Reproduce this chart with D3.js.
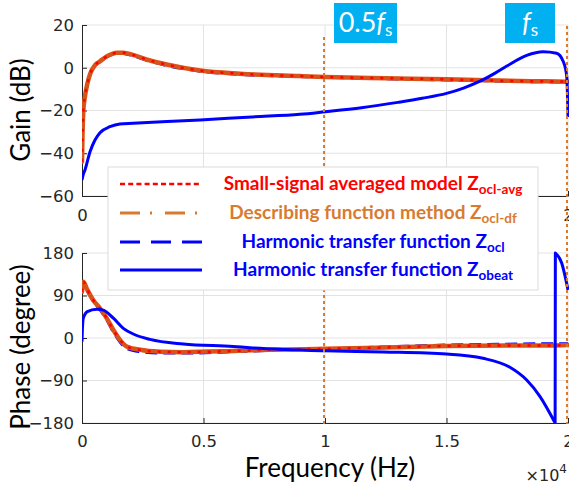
<!DOCTYPE html>
<html>
<head>
<meta charset="utf-8">
<script src="https://cdn.jsdelivr.net/npm/d3@7/dist/d3.min.js"></script>
<style>
  body { margin: 0; background: #fff; }
  svg { display: block; }
</style>
</head>
<body>
<div class="chart-box"></div>
<script>
let width = 569, height = 486;

// frequency in Hz (axis shows x1e4)
let freqTicks = [0, 5000, 10000, 15000, 20000];
let freqTickLabels = ["0", "0.5", "1", "1.5", "2"];
let gainTicks = [-60, -40, -20, 0, 20];
let phaseTicks = [-180, -90, 0, 90, 180];

// gain (dB) of the Zocl curves
let gainFreq = [0, 20, 55, 120, 220, 330, 535, 740, 1015, 1250, 1430, 1700, 2100, 2770, 3480, 4860, 6500, 8970, 10000, 12500, 15000, 16650, 18500, 19880, 20000];
let gainAvg  = [-44, -32, -20, -13.5, -7.5, -3, 1.2, 3, 5.3, 6.5, 7, 7, 6, 3.5, 1.5, -1.3, -2.8, -3.9, -4.3, -4.9, -5.4, -5.9, -6.3, -6.5, -6.6];
let gainDf   = [-44, -32, -20, -13.5, -7.5, -3, 1.2, 3, 5.3, 6.5, 7, 7, 6, 3.5, 1.5, -1.3, -2.8, -3.9, -4.3, -4.9, -5.4, -5.9, -6.3, -6.5, -6.6];
let gainOcl  = [-44, -32, -20, -13.7, -7.7, -3.2, 1, 2.8, 5, 6.3, 6.8, 6.7, 5.6, 3.1, 1.1, -1.6, -3.1, -4.1, -4.5, -5.1, -5.7, -6.1, -6.5, -6.7, -6.8];

// gain (dB) of Zobeat
let beatGainFreq = [0, 50, 123, 330, 535, 740, 1150, 1560, 2100, 3500, 4860, 7000, 8970, 10000, 11500, 13000, 14000, 15000, 15700, 16380, 17000, 17480, 18300, 18980, 19530, 19810, 19950, 20000];
let beatGain     = [-52.5, -50, -47.8, -39.3, -33.8, -30.4, -27.6, -26.3, -26, -25.2, -24.4, -23, -21.8, -20.6, -18.7, -16.2, -14.3, -12, -9.5, -6.3, -2.5, 0.8, 5.8, 7.5, 6.8, 2.8, -4.2, -23];

// phase (degree) of the Zocl curves
let phaseFreq = [0, 55, 220, 465, 740, 1015, 1290, 1560, 1840, 2390, 3210, 4170, 6220, 8000, 10000, 12500, 15000, 17500, 19260, 20000];
let phaseAvg  = [98, 119, 102, 80, 63, 42, 17, -4, -18, -25, -29, -30, -27.5, -24.5, -23, -20, -17, -16, -16, -15];
let phaseDf   = [98, 119, 102, 80, 63, 42, 17, -4, -18, -25, -29, -30, -27.5, -24.5, -23, -20, -17, -16, -16, -15];
let phaseOcl  = [95, 116, 100, 78, 60, 39, 13, -8, -22, -29, -32, -32, -29, -25.5, -23, -19, -15, -13, -12, -12];

// phase (degree) of Zobeat, wraps from -180 to 180 near 19.47 kHz
let beatPhaseFreq = [0, 15, 55, 220, 605, 877, 1290, 1700, 2110, 2800, 4170, 6220, 6910, 10000, 12400, 15000, 16500, 17610, 18300, 18850, 19470, 19480, 19740, 20000];
let beatPhase     = [-8, 17, 42, 56, 61, 59, 42, 20.5, 8.5, -3, -12.7, -18, -20.5, -27, -29.6, -34, -43, -62, -89, -124, -180, 180, 159, 102];

let legendLabels = ["Small-signal averaged model Z", "Describing function method Z", "Harmonic transfer function Z", "Harmonic transfer function Z"];
let legendSubs = ["ocl-avg", "ocl-df", "ocl", "obeat"];
let markerFreqs = [10000, 20000];
let markerLabels = ["0.5", ""];

let red = "#ff0000", orange = "#d95319", orangeLt = "#d97b2e", blue = "#0000ff", axisCol = "#262626", gridCol = "#e3e3e3";
let tickFont = "DejaVu Sans, sans-serif";

let svg = d3.select(".chart-box")
  .append("svg")
  .attr("width", width)
  .attr("height", height)
  .style("background", "#fff");

let x = d3.scaleLinear().domain([0, 20000]).range([82, 568]);
let yG = d3.scaleLinear().domain([-60, 20]).range([196, 25]);
let yP = d3.scaleLinear().domain([-180, 180]).range([423, 253]);

let defs = svg.append("defs");
defs.append("clipPath").attr("id", "clipG").append("rect")
  .attr("x", x(0)).attr("y", yG(20) - 2).attr("width", x(20000) - x(0) + 2).attr("height", yG(-60) - yG(20) + 2);
defs.append("clipPath").attr("id", "clipP").append("rect")
  .attr("x", x(0)).attr("y", yP(180) - 2).attr("width", x(20000) - x(0) + 2).attr("height", yP(-180) - yP(180) + 2);

// grids
let drawGrid = function (y, yt) {
  let g = svg.append("g").attr("class", "grid");
  g.selectAll(".h").data(yt).enter().append("line")
    .attr("x1", x(0)).attr("x2", x(20000))
    .attr("y1", d => y(d)).attr("y2", d => y(d))
    .attr("stroke", gridCol);
  g.selectAll(".v").data(freqTicks.slice(1)).enter().append("line")
    .attr("x1", d => x(d)).attr("x2", d => x(d))
    .attr("y1", y.range()[0]).attr("y2", y.range()[1])
    .attr("stroke", gridCol);
};
drawGrid(yG, gainTicks);
drawGrid(yP, phaseTicks);

// axes
let styleAxis = function (g) {
  g.selectAll("path,line").attr("stroke", axisCol);
  g.selectAll("text").attr("fill", axisCol).style("font-family", tickFont).style("font-size", "16.5px");
};
// top x axis: middle labels sit under the legend, only the ends show
svg.append("g").attr("transform", `translate(0,${yG(-60)})`)
  .call(d3.axisBottom(x).tickValues(freqTicks)
    .tickFormat((d, i) => (i === 0 || i === freqTicks.length - 1) ? freqTickLabels[i] : "")
    .tickSize(-5).tickSizeOuter(0).tickPadding(13))
  .call(styleAxis);
svg.append("g").attr("transform", `translate(${x(0)},0)`)
  .call(d3.axisLeft(yG).tickValues(gainTicks).tickSize(-5).tickSizeOuter(0).tickPadding(8))
  .call(styleAxis);
svg.append("g").attr("transform", `translate(0,${yP(-180)})`)
  .call(d3.axisBottom(x).tickValues(freqTicks).tickFormat((d, i) => freqTickLabels[i]).tickSize(-5).tickSizeOuter(0).tickPadding(12))
  .call(styleAxis);
svg.append("g").attr("transform", `translate(${x(0)},0)`)
  .call(d3.axisLeft(yP).tickValues(phaseTicks).tickSize(-5).tickSizeOuter(0).tickPadding(8))
  .call(styleAxis);

// curves
let lineOf = function (fs, vs, y) {
  return d3.line().curve(d3.curveMonotoneX)
    .x((d, i) => x(fs[i])).y(d => y(d))(vs);
};
let plotG = svg.append("g").attr("clip-path", "url(#clipG)");
let plotP = svg.append("g").attr("clip-path", "url(#clipP)");

let addCurves = function (g, fs, ocl, df, avg, y) {
  g.append("path").attr("d", lineOf(fs, ocl, y)).attr("fill", "none")
    .attr("stroke", blue).attr("stroke-width", 3).attr("stroke-dasharray", "12,6");
  g.append("path").attr("d", lineOf(fs, df, y)).attr("fill", "none")
    .attr("stroke", orange).attr("stroke-width", 4.5).attr("stroke-linecap", "round");
  g.append("path").attr("d", lineOf(fs, avg, y)).attr("fill", "none")
    .attr("stroke", red).attr("stroke-width", 2.5).attr("stroke-dasharray", "3,7");
};
addCurves(plotG, gainFreq, gainOcl, gainDf, gainAvg, yG);
addCurves(plotP, phaseFreq, phaseOcl, phaseDf, phaseAvg, yP);

plotG.append("path").attr("d", lineOf(beatGainFreq, beatGain, yG)).attr("fill", "none")
  .attr("stroke", blue).attr("stroke-width", 3).attr("stroke-linejoin", "round");

// beat phase split at the wrap
let wrap = beatPhase.findIndex((d, i) => i > 0 && d - beatPhase[i - 1] > 180);
let beatPhasePath = lineOf(beatPhaseFreq.slice(0, wrap), beatPhase.slice(0, wrap), yP)
  + "L" + x(beatPhaseFreq[wrap]) + "," + yP(beatPhase[wrap])
  + lineOf(beatPhaseFreq.slice(wrap), beatPhase.slice(wrap), yP).replace(/^M/, "L");
plotP.append("path").attr("d", beatPhasePath).attr("fill", "none")
  .attr("stroke", blue).attr("stroke-width", 3).attr("stroke-linejoin", "round");

// fs markers
svg.selectAll(".marker").data(markerFreqs).enter().append("line")
  .attr("x1", d => x(d) - 1).attr("x2", d => x(d) - 1)
  .attr("y1", (d, i) => i === 0 ? 37 : 26).attr("y2", 424)
  .attr("stroke", orangeLt).attr("stroke-width", 2).attr("stroke-dasharray", "3,3");

let boxes = [{ x: 334, w: 63 }, { x: 505, w: 50 }];
boxes.forEach(function (b, i) {
  svg.append("rect").attr("x", b.x).attr("y", 3).attr("width", b.w).attr("height", 40).attr("fill", "#00b0f0");
  let t = svg.append("text").attr("x", b.x + b.w / 2).attr("y", 32).attr("text-anchor", "middle")
    .attr("fill", "#fff").style("font-family", "Lato, sans-serif").style("font-size", "27px");
  if (markerLabels[i]) t.append("tspan").text(markerLabels[i]);
  t.append("tspan").style("font-style", "italic").text("f");
  t.append("tspan").attr("dy", 4).style("font-size", "17px").text("s");
});

// legend
let legend = svg.append("g");
legend.append("rect").attr("x", 108).attr("y", 167).attr("width", 430).attr("height", 123)
  .attr("fill", "#fff").attr("stroke", "#dcdcdc");
let legRows = [184, 213, 242, 270];
let legStyles = [
  { c: red, w: 2.5, dash: "5,3.2", tc: red },
  { c: orangeLt, w: 3, dash: "20,10,2,13", tc: orangeLt },
  { c: blue, w: 3, dash: "20,11", tc: blue },
  { c: blue, w: 3, dash: null, tc: blue }
];
legendLabels.forEach(function (lab, i) {
  let s = legStyles[i];
  legend.append("line").attr("x1", 120).attr("x2", 202).attr("y1", legRows[i]).attr("y2", legRows[i])
    .attr("stroke", s.c).attr("stroke-width", s.w).attr("stroke-dasharray", s.dash);
  let t = legend.append("text").attr("x", 373).attr("y", legRows[i] + 6).attr("text-anchor", "middle")
    .attr("fill", s.tc).style("font-family", "Lato, sans-serif").style("font-weight", "bold").style("font-size", "19px");
  t.append("tspan").text(lab);
  t.append("tspan").attr("dy", 4).style("font-size", "13.5px").text(legendSubs[i]);
});

// axis titles
let titleFont = function (t) {
  t.attr("fill", "#000").style("font-family", "Lato, sans-serif").style("font-size", "26px").attr("text-anchor", "middle");
};
svg.append("text").attr("transform", "translate(30,110) rotate(-90)").text("Gain (dB)").call(titleFont);
svg.append("text").attr("transform", "translate(30,347) rotate(-90)").text("Phase (degree)").call(titleFont);
svg.append("text").attr("x", 330).attr("y", 477).text("Frequency (Hz)").call(titleFont);

let exp = svg.append("text").attr("x", 567).attr("y", 481).attr("text-anchor", "end")
  .attr("fill", axisCol).style("font-family", tickFont).style("font-size", "16px");
exp.append("tspan").text("\u00d710");
exp.append("tspan").attr("dy", -8).style("font-size", "12px").text("4");
</script>
</body>
</html>
